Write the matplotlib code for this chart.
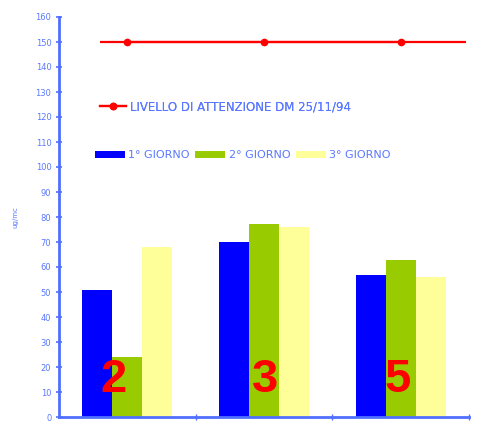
import matplotlib
matplotlib.use("Agg")
import matplotlib.pyplot as plt
import numpy as np

plt.rcParams['font.family'] = ['DejaVu Sans']

# Measurement days per site and attention threshold
categories = ["2", "3", "5"]
giorno_1 = [51, 70, 57]
giorno_2 = [24, 77, 63]
giorno_3 = [68, 76, 56]
soglia = [150, 150, 150]
series_labels = ["1° GIORNO", "2° GIORNO", "3° GIORNO"]
line_label = "LIVELLO DI ATTENZIONE DM 25/11/94"
y_ticks = list(range(0, 161, 10))

BLUE = "#0000FF"
GREEN = "#99CC00"
YELLOW = "#FFFF99"
RED = "#FF0000"
AXIS = "#4F6FFF"
TEXT = "#5A78FF"

fig = plt.figure(figsize=(4.8, 4.23), dpi=100)
ax = fig.add_axes([59 / 480, 6 / 423, 410 / 480, 400 / 423])

x = np.arange(len(categories))
w = 0.22
bars = []
for i, (vals, col) in enumerate(zip([giorno_1, giorno_2, giorno_3], [BLUE, GREEN, YELLOW])):
    b = ax.bar(x + (i - 1) * w, vals, width=w, color=col, label=series_labels[i], zorder=2)
    bars.append(b)

# threshold line across the plot, markers at each site
ax.hlines(soglia[0], -0.2, 2.48, color=RED, lw=1.6, zorder=3)
line, = ax.plot(x, soglia, color=RED, lw=1.6, marker="o", ms=4.5, zorder=4, label=line_label)

# site numbers inside the bars
offsets = [-0.1, 0.01, -0.02]
for xi, c, dx in zip(x, categories, offsets):
    ax.text(xi + dx, 6, c, color=RED, fontsize=34, fontweight="bold",
            family="Liberation Sans", ha="center", va="bottom", zorder=5)

ax.set_xlim(-0.5, 2.5)
ax.set_ylim(0, 160)
ax.set_yticks(y_ticks)
ax.set_yticklabels([str(v) for v in y_ticks], fontsize=6, color=TEXT)
ax.set_xticks([0.5, 1.5, 2.5])
ax.set_xticklabels([])
ax.tick_params(axis="y", direction="inout", length=5, width=1.2, color=AXIS, pad=3)
ax.tick_params(axis="x", direction="inout", length=5, width=1.0, color=AXIS)
for s in ["top", "right"]:
    ax.spines[s].set_visible(False)
ax.spines["left"].set_color(AXIS)
ax.spines["left"].set_linewidth(2)
ax.spines["bottom"].set_color(AXIS)
ax.spines["bottom"].set_linewidth(2)
ax.set_ylabel("ug/mc", fontsize=5, color=TEXT, labelpad=12)

leg1 = fig.legend(handles=[line], labels=[line_label], loc="center left",
                  bbox_to_anchor=(100 / 480, 1 - 107 / 423), frameon=False,
                  fontsize=8.5, labelcolor=TEXT, handlelength=2.2, handletextpad=0.3,
                  borderpad=0, borderaxespad=0)
fig.legend(handles=bars, labels=series_labels, loc="center left", ncol=3,
           bbox_to_anchor=(95 / 480, 1 - 155 / 423), frameon=False,
           fontsize=8, labelcolor=TEXT, handlelength=2.7, handleheight=0.6,
           handletextpad=0.3, columnspacing=0.5, borderpad=0, borderaxespad=0)
fig.add_artist(leg1)

fig.savefig("out.png", dpi=100)
